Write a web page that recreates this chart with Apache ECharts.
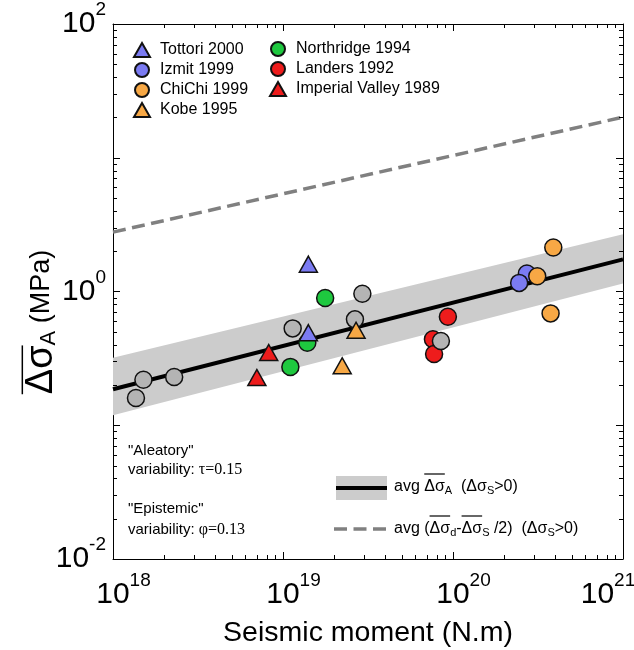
<!DOCTYPE html>
<html><head><meta charset="utf-8">
<script src="https://cdn.jsdelivr.net/npm/echarts@6/dist/echarts.min.js"></script>
<style>html,body{margin:0;padding:0;background:#fff}#c{width:634px;height:650px}</style>
</head><body><div id="c"></div>
<script>
// ---------- data ----------
const xLimits = [1e18, 1e21];
const yLimits = [1e-2, 1e2];
const xLastExp = 21;
const yLabelExps = [-2, 0, 2];
const xMinorTicks = [2e18,3e18,4e18,5e18,6e18,7e18,8e18,9e18,
                     2e19,3e19,4e19,5e19,6e19,7e19,8e19,9e19,
                     2e20,3e20,4e20,5e20,6e20,7e20,8e20,9e20];
const yMinorTicks = [0.02,0.03,0.04,0.05,0.06,0.07,0.08,0.09,
                     0.2,0.3,0.4,0.5,0.6,0.7,0.8,0.9,
                     2,3,4,5,6,7,8,9,
                     20,30,40,50,60,70,80,90];

const tottori    = [[1.41e19,1.60],[1.41e19,0.492]];
const izmit      = [[2.72e20,1.365],[2.45e20,1.16]];
const chichi     = [[3.89e20,2.13],[3.13e20,1.30],[3.75e20,0.686]];
const kobe       = [[2.69e19,0.513],[2.23e19,0.2785]];
const northridge = [[1.77e19,0.893],[1.39e19,0.414],[1.105e19,0.273]];
const landers    = [[9.33e19,0.647],[7.62e19,0.439],[7.74e19,0.341]];
const imperial   = [[8.24e18,0.350],[7.02e18,0.2276]];
const others     = [[2.93e19,0.961],[1.14e19,0.530],[2.65e19,0.619],[8.49e19,0.4265],
                    [2.29e18,0.2296],[1.51e18,0.219],[1.365e18,0.160]];

const fitX      = [1e18, 1e21];
const fitY      = [0.186, 1.74];
const bandUpper = [0.320, 2.68];
const bandLower = [0.119, 1.15];
const dashedY   = [2.78, 20.1];

// ---------- helpers ----------
const FF = '"Liberation Sans", Arial, Helvetica, sans-serif';
const SERIF = '"Liberation Serif", "Times New Roman", serif';
const mctx = document.createElement('canvas').getContext('2d');
function tw(s, size, fam) { mctx.font = size + 'px ' + (fam || FF); return mctx.measureText(s).width; }

function supFmtX(v) {
  const e = Math.round(Math.log10(v));
  if (e >= xLastExp) return '{b|10}{s|' + e + '}{sr| }';
  return '{sp| }{b|10}{s|' + e + '}';
}
function supFmtY(v) {
  const e = Math.round(Math.log10(v));
  return yLabelExps.indexOf(e) >= 0 ? '{b|10}{s|' + e + '}' : '';
}
const tickRich = {
  b: {fontSize: 30, fontFamily: FF, color: '#000'},
  s: {fontSize: 19, fontFamily: FF, color: '#000', padding: [0, 0, 28, 0]},
  sp: {fontSize: 10, width: 21},
  sr: {fontSize: 10, width: 30}
};

function sc(name, data, symbol, color, size) {
  return {type: 'scatter', name, data, symbol, symbolSize: size, z: 5,
    itemStyle: {color, borderColor: '#111', borderWidth: 1.5, opacity: 1},
    emphasis: {disabled: true}, silent: true};
}
const TRI = [18, 16], CIR = 17;
const BLUE = '#7b7bf2', ORANGE = '#f7a845', GREEN = '#1ec83f', RED = '#ee1c1c', GRAY = '#b4b4b4';

function axisBase(pos) {
  return {
    position: pos, axisLine: {show: true, onZero: false, lineStyle: {color: '#000', width: 1}},
    axisTick: {show: true, inside: true, length: 7, lineStyle: {color: '#000', width: 1}},
    axisLabel: {show: false},
    splitLine: {show: false}
  };
}

// overline measurements
const lx = 394, ly1 = 487, ly2 = 529;
const o1s = lx + tw('avg ', 16), o1e = o1s + tw('Δσ', 16);
const a2 = lx + tw('avg (', 16);
const o2s = a2, o2e = a2 + tw('Δσ', 16);
const o3s = o2e + tw('d', 11) + tw('-', 16), o3e = o3s + tw('Δσ', 16);

const yNx = 42, yNy = 322, dSz = 38, sSz = 22, nSz = 27;
const wD = tw('Δσ', dSz), wS = tw('A', sSz), wN = tw(' (MPa)', nSz);
const W = wD + wS + wN;
const yOvStart = yNy + W / 2, yOvEnd = yOvStart - wD;

const chart = echarts.init(document.getElementById('c'), null, {renderer: 'canvas'});
chart.setOption({
  animation: false,
  backgroundColor: '#fff',
  grid: {left: 113, right: 11, top: 24, bottom: 91, containLabel: false, outerBoundsMode: 'none'},
  xAxis: [
    Object.assign({type: 'log', logBase: 10, min: xLimits[0], max: xLimits[1],
      name: 'Seismic moment (N.m)', nameLocation: 'middle', nameGap: 60,
      nameTextStyle: {fontSize: 28.5, fontFamily: FF, color: '#000'}}, axisBase('bottom'),
      {axisLabel: {show: true, formatter: supFmtX, rich: tickRich, margin: 12, hideOverlap: false}}),
    Object.assign({type: 'log', logBase: 10, min: xLimits[0], max: xLimits[1]}, axisBase('top'))
  ],
  yAxis: [
    Object.assign({type: 'log', logBase: 10, min: yLimits[0], max: yLimits[1]}, axisBase('left'),
      {axisLabel: {show: true, formatter: supFmtY, rich: tickRich, margin: 7}}),
    Object.assign({type: 'log', logBase: 10, min: yLimits[0], max: yLimits[1]}, axisBase('right'))
  ],
  legend: [
    {left: 128, top: 37, orient: 'vertical', itemWidth: 16, itemHeight: 14, itemGap: 4, selectedMode: false,
      data: ['Tottori 2000', 'Izmit 1999', 'ChiChi 1999', 'Kobe 1995'],
      textStyle: {fontSize: 16, fontFamily: FF, color: '#000', padding: [0, 0, 0, 5]}},
    {left: 264, top: 36, orient: 'vertical', itemWidth: 16, itemHeight: 14, itemGap: 4, selectedMode: false,
      data: ['Northridge 1994', 'Landers 1992', 'Imperial Valley 1989'],
      textStyle: {fontSize: 16, fontFamily: FF, color: '#000', padding: [0, 0, 0, 5]}}
  ],
  series: [
    {type: 'custom', name: 'band', silent: true, z: 1, clip: false,
      data: [[fitX[0], bandLower[0]]], encode: {x: 0, y: 1},
      renderItem: function (params, api) {
        const pts = [];
        for (let i = 0; i < fitX.length; i++) pts.push(api.coord([fitX[i], bandUpper[i]]));
        for (let i = fitX.length - 1; i >= 0; i--) pts.push(api.coord([fitX[i], bandLower[i]]));
        return {type: 'polygon', shape: {points: pts}, style: {fill: '#cccccc', stroke: null}};
      }},
    {type: 'line', name: 'fit', data: fitX.map((x, i) => [x, fitY[i]]), symbol: 'none', z: 3, silent: true,
      lineStyle: {color: '#000', width: 4}},
    {type: 'line', name: 'dashed', data: fitX.map((x, i) => [x, dashedY[i]]), symbol: 'none', z: 3, silent: true,
      lineStyle: {color: '#808080', width: 3.5, type: [13, 6.5]}},
    {type: 'custom', name: 'xminor', silent: true, z: 4, clip: false,
      data: xMinorTicks.map(v => [v, 1]), encode: {x: 0, y: 1},
      renderItem: function (params, api) {
        const v = api.value(0);
        const b = api.coord([v, yLimits[0]]), t = api.coord([v, yLimits[1]]);
        const x = Math.round(b[0]) + 0.5;
        return {type: 'group', children: [
          {type: 'line', shape: {x1: x, y1: b[1], x2: x, y2: b[1] - 4}, style: {stroke: '#000', lineWidth: 1}},
          {type: 'line', shape: {x1: x, y1: t[1], x2: x, y2: t[1] + 4}, style: {stroke: '#000', lineWidth: 1}}
        ]};
      }},
    {type: 'custom', name: 'yminor', silent: true, z: 4, clip: false,
      data: yMinorTicks.map(v => [1e19, v]), encode: {x: 0, y: 1},
      renderItem: function (params, api) {
        const v = api.value(1);
        const l = api.coord([xLimits[0], v]), r = api.coord([xLimits[1], v]);
        const y = Math.round(l[1]) + 0.5;
        return {type: 'group', children: [
          {type: 'line', shape: {x1: l[0], y1: y, x2: l[0] + 4, y2: y}, style: {stroke: '#000', lineWidth: 1}},
          {type: 'line', shape: {x1: r[0], y1: y, x2: r[0] - 4, y2: y}, style: {stroke: '#000', lineWidth: 1}}
        ]};
      }},
    sc('Landers 1992', landers, 'circle', RED, CIR),
    sc('Northridge 1994', northridge, 'circle', GREEN, CIR),
    sc('Imperial Valley 1989', imperial, 'triangle', RED, TRI),
    sc('Other', others, 'circle', GRAY, CIR),
    sc('Izmit 1999', izmit, 'circle', BLUE, CIR),
    sc('ChiChi 1999', chichi, 'circle', ORANGE, CIR),
    sc('Kobe 1995', kobe, 'triangle', ORANGE, TRI),
    sc('Tottori 2000', tottori, 'triangle', BLUE, TRI)
  ],
  graphic: [
    {type: 'text', x: 128, y: 451, style: {text: '"Aleatory"', font: '15px ' + FF, fill: '#000', verticalAlign: 'middle'}},
    {type: 'text', x: 128, y: 470, style: {text: '{a|variability: }{g|τ=0.15}', fill: '#000', verticalAlign: 'middle',
      rich: {a: {fontSize: 15, fontFamily: FF}, g: {fontSize: 16, fontFamily: SERIF}}}},
    {type: 'text', x: 128, y: 509, style: {text: '"Epistemic"', font: '15px ' + FF, fill: '#000', verticalAlign: 'middle'}},
    {type: 'text', x: 128, y: 530, style: {text: '{a|variability: }{g|φ=0.13}', fill: '#000', verticalAlign: 'middle',
      rich: {a: {fontSize: 15, fontFamily: FF}, g: {fontSize: 16, fontFamily: SERIF}}}},
    // bottom-right legend
    {type: 'rect', shape: {x: 336, y: 476, width: 51, height: 24}, style: {fill: '#cccccc'}},
    {type: 'line', shape: {x1: 336, y1: 488, x2: 387, y2: 488}, style: {stroke: '#000', lineWidth: 4}},
    {type: 'line', shape: {x1: 334, y1: 529, x2: 386, y2: 529}, style: {stroke: '#808080', lineWidth: 3.5, lineDash: [13, 6.5]}},
    {type: 'text', x: lx, y: ly1, style: {text: '{m|avg Δσ}{sb|A}{m|  (Δσ}{sb|S}{m|>0)}', fill: '#000', verticalAlign: 'middle',
      rich: {m: {fontSize: 16, fontFamily: FF}, sb: {fontSize: 11, fontFamily: FF, padding: [8, 0, 0, 0]}}}},
    {type: 'line', shape: {x1: o1s, y1: ly1 - 13, x2: o1e, y2: ly1 - 13}, style: {stroke: '#000', lineWidth: 1.2}},
    {type: 'text', x: lx, y: ly2, style: {text: '{m|avg (Δσ}{sb|d}{m|-Δσ}{sb|S}{m| /2)  (Δσ}{sb|S}{m|>0)}', fill: '#000', verticalAlign: 'middle',
      rich: {m: {fontSize: 16, fontFamily: FF}, sb: {fontSize: 11, fontFamily: FF, padding: [8, 0, 0, 0]}}}},
    {type: 'line', shape: {x1: o2s, y1: ly2 - 13, x2: o2e, y2: ly2 - 13}, style: {stroke: '#000', lineWidth: 1.2}},
    {type: 'line', shape: {x1: o3s, y1: ly2 - 13, x2: o3e, y2: ly2 - 13}, style: {stroke: '#000', lineWidth: 1.2}},
    // y axis name
    {type: 'text', x: yNx, y: yNy, rotation: Math.PI / 2,
      style: {text: '{d|Δσ}{s|A}{n| (MPa)}', fill: '#000', align: 'center', verticalAlign: 'middle',
        rich: {d: {fontSize: dSz, fontFamily: FF}, s: {fontSize: sSz, fontFamily: FF, padding: [14, 0, 0, 0]},
               n: {fontSize: nSz, fontFamily: FF}}}},
    {type: 'line', shape: {x1: yNx - 0.36 * dSz - 6, y1: yOvStart, x2: yNx - 0.36 * dSz - 6, y2: yOvEnd},
      style: {stroke: '#000', lineWidth: 1.5}}
  ]
});
</script>
</body></html>
